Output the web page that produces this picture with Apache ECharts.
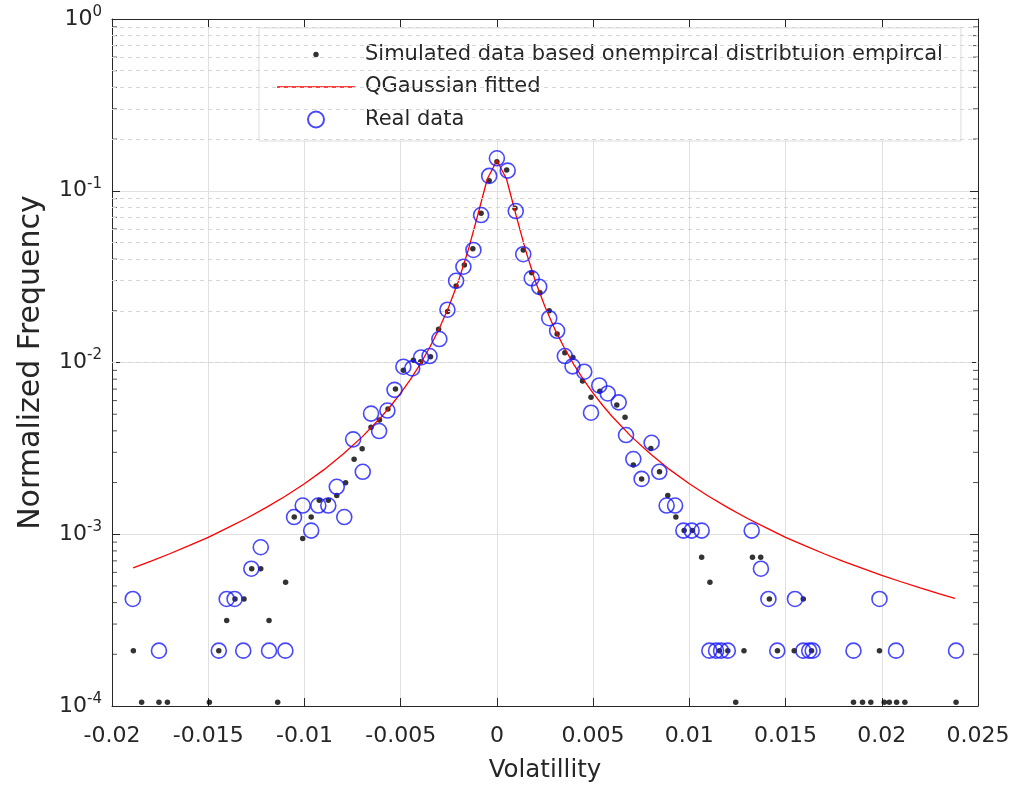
<!DOCTYPE html>
<html><head><meta charset="utf-8">
<script src="https://cdn.jsdelivr.net/npm/echarts@6/dist/echarts.min.js"></script>
<style>html,body{margin:0;padding:0;background:#fff}#c{width:1017px;height:792px}</style>
</head><body><div id="c"></div>
<script>
// Simulated data (black dots)
const simX = [-0.01889,-0.01846,-0.01756,-0.01712,-0.01494,-0.01445,-0.01404,-0.01361,-0.01314,-0.01274,-0.01227,-0.01184,-0.01139,-0.01098,-0.01053,-0.01009,-0.00965,-0.00923,-0.00876,-0.00832,-0.00786,-0.00742,-0.00700,-0.00654,-0.00610,-0.00566,-0.00527,-0.00486,-0.00434,-0.00396,-0.00345,-0.00303,-0.00256,-0.00212,-0.00169,-0.00125,-0.00082,-0.00040,0.00000,0.00051,0.00094,0.00137,0.00181,0.00224,0.00272,0.00313,0.00353,0.00395,0.00445,0.00489,0.00535,0.00623,0.00666,0.00709,0.00752,0.00800,0.00845,0.00888,0.00930,0.00973,0.01016,0.01064,0.01107,0.01156,0.01200,0.01241,0.01284,0.01328,0.01371,0.01416,0.01458,0.01545,0.01592,0.01635,0.01853,0.01900,0.01943,0.01988,0.02013,0.02039,0.02077,0.02120,0.02386];
const simY = [2.1e-4,1.05e-4,1.05e-4,1.05e-4,1.05e-4,2.1e-4,3.15e-4,4.2e-4,4.2e-4,6.3e-4,6.3e-4,3.15e-4,1.05e-4,5.25e-4,1.26e-3,9.45e-4,1.26e-3,1.575e-3,1.575e-3,1.68e-3,1.995e-3,2.73e-3,3.15e-3,4.2e-3,4.62e-3,5.36e-3,7.0e-3,9.0e-3,1.03e-2,1.01e-2,1.08e-2,1.56e-2,1.98e-2,2.79e-2,3.7e-2,4.6e-2,7.39e-2,0.1145,0.1476,0.132,0.079,0.0452,0.0333,0.0255,0.0200,0.01466,0.0114,0.01068,7.8e-3,6.28e-3,6.8e-3,5.66e-3,4.8e-3,2.53e-3,2.1e-3,3.16e-3,2.31e-3,1.68e-3,1.26e-3,1.05e-3,1.05e-3,7.35e-4,5.25e-4,2.1e-4,2.1e-4,1.05e-4,2.1e-4,7.35e-4,7.35e-4,4.2e-4,2.1e-4,2.1e-4,4.2e-4,2.1e-4,1.05e-4,1.05e-4,1.05e-4,2.1e-4,1.05e-4,1.05e-4,1.05e-4,1.05e-4,1.05e-4];

// Real data (blue circles)
const realX = [-0.01892,-0.01756,-0.01445,-0.01404,-0.01363,-0.01318,-0.01276,-0.01227,-0.01184,-0.01099,-0.01054,-0.01009,-0.00965,-0.00928,-0.00876,-0.00832,-0.00793,-0.00747,-0.00697,-0.00654,-0.00612,-0.00569,-0.00532,-0.00486,-0.00440,-0.00394,-0.00350,-0.00299,-0.00257,-0.00212,-0.00174,-0.00122,-0.00082,-0.00040,0.00000,0.00056,0.00098,0.00137,0.00181,0.00220,0.00272,0.00313,0.00353,0.00393,0.00454,0.00489,0.00532,0.00576,0.00633,0.00671,0.00709,0.00752,0.00804,0.00844,0.00882,0.00926,0.00969,0.01012,0.01064,0.01104,0.01139,0.01165,0.01200,0.01324,0.01372,0.01411,0.01457,0.01549,0.01592,0.01623,0.01641,0.01853,0.01988,0.02074,0.02386];
const realY = [4.2e-4,2.1e-4,2.1e-4,4.2e-4,4.2e-4,2.1e-4,6.3e-4,8.4e-4,2.1e-4,2.1e-4,1.26e-3,1.47e-3,1.05e-3,1.47e-3,1.47e-3,1.89e-3,1.26e-3,3.57e-3,2.31e-3,5.04e-3,3.99e-3,5.25e-3,6.93e-3,9.45e-3,9.24e-3,1.07e-2,1.09e-2,1.37e-2,2.03e-2,2.99e-2,3.61e-2,4.52e-2,7.22e-2,0.122,0.1545,0.131,0.0762,0.0427,0.0309,0.0276,0.0181,0.0153,0.0109,0.0095,8.84e-3,5.1e-3,7.35e-3,6.6e-3,5.86e-3,3.78e-3,2.74e-3,2.1e-3,3.41e-3,2.31e-3,1.47e-3,1.47e-3,1.05e-3,1.05e-3,1.05e-3,2.1e-4,2.1e-4,2.1e-4,2.1e-4,1.05e-3,6.3e-4,4.2e-4,2.1e-4,4.2e-4,2.1e-4,2.1e-4,2.1e-4,2.1e-4,4.2e-4,2.1e-4,2.1e-4];

// QGaussian fitted curve
const fitX = [-0.0189,-0.018,-0.017,-0.016,-0.015,-0.014,-0.013,-0.012,-0.011,-0.010,-0.009,-0.008,-0.007,-0.006,-0.0055,-0.005,-0.0045,-0.004,-0.0035,-0.003,-0.0025,-0.002,-0.0015,-0.001,-0.0005,0,0.0005,0.001,0.0015,0.002,0.0025,0.003,0.0035,0.004,0.0045,0.005,0.0055,0.006,0.007,0.008,0.009,0.010,0.011,0.012,0.013,0.014,0.015,0.016,0.017,0.018,0.019,0.020,0.021,0.022,0.023,0.0238];
const fitY = [6.38e-4,6.96e-4,7.70e-4,8.58e-4,9.6e-4,1.09e-3,1.239e-3,1.43e-3,1.665e-3,1.97e-3,2.37e-3,2.92e-3,3.69e-3,4.83e-3,5.62e-3,6.63e-3,7.95e-3,9.72e-3,1.218e-2,1.57e-2,2.11e-2,2.97e-2,4.47e-2,7.18e-2,0.117,0.15,0.117,7.18e-2,4.47e-2,2.97e-2,2.11e-2,1.57e-2,1.218e-2,9.72e-3,7.95e-3,6.63e-3,5.62e-3,4.83e-3,3.69e-3,2.92e-3,2.37e-3,1.97e-3,1.665e-3,1.43e-3,1.239e-3,1.09e-3,9.6e-4,8.58e-4,7.70e-4,6.96e-4,6.32e-4,5.77e-4,5.29e-4,4.87e-4,4.50e-4,4.23e-4];

const xTickLabels = ['-0.02','-0.015','-0.01','-0.005','0','0.005','0.01','0.015','0.02','0.025'];
const yTickExp = ['-4','-3','-2','-1','0'];
const seriesNames = ['Simulated data based onempircal distribtuion empircal','QGaussian fitted','Real data'];

const X_MIN = -0.02, X_MAX = 0.025;
const minorY = [];
[-4,-3,-2,-1].forEach(d => { for (let m = 2; m <= 9; m++) minorY.push(m * Math.pow(10, d)); });

const FONT = '"DejaVu Sans", "Liberation Sans", Arial, sans-serif';
const AX = '#262626';
const chart = echarts.init(document.getElementById('c'));
chart.setOption({
  animation: false,
  textStyle: { fontFamily: FONT },
  grid: { left: 112, top: 19, width: 866, height: 687 },
  legend: {
    orient: 'vertical', left: 259, top: 28,
    itemWidth: 78, itemHeight: 16, itemGap: 11.5,
    padding: [16, 18, 11, 18],
    backgroundColor: '#ffffff', borderColor: '#dcdcdc', borderWidth: 1,
    textStyle: { fontSize: 21, color: AX, padding: [0, 0, 0, 5], fontFamily: FONT },
    data: [
      { name: seriesNames[0], icon: 'path://M0,0L0.01,0L0.01,0.01ZM10,10L10.01,10L10.01,10.01ZM3.3,5A1.7,1.7 0 1,0 6.7,5A1.7,1.7 0 1,0 3.3,5Z' },
      { name: seriesNames[1], icon: 'path://M0,0L60,0L60,1L0,1Z', itemStyle: { color: '#ff0000' } },
      { name: seriesNames[2], icon: 'circle' }
    ]
  },
  xAxis: [{
    type: 'value', min: X_MIN, max: X_MAX, interval: 0.005,
    axisLine: { onZero: false, lineStyle: { color: AX, width: 1 } },
    axisTick: { inside: true, length: 8, lineStyle: { color: AX } },
    axisLabel: { color: AX, fontSize: 22, margin: 19, fontFamily: FONT,
      formatter: v => xTickLabels[Math.round((v - X_MIN) / 0.005)] },
    splitLine: { show: true, lineStyle: { color: '#e0e0e0', width: 1 } },
    name: 'Volatillity', nameLocation: 'middle', nameGap: 52,
    nameTextStyle: { fontSize: 24.5, color: AX, fontFamily: FONT }
  }, {
    type: 'value', position: 'top', min: X_MIN, max: X_MAX, interval: 0.005,
    axisLine: { onZero: false, lineStyle: { color: AX, width: 1 } },
    axisTick: { inside: true, length: 8, lineStyle: { color: AX } },
    axisLabel: { show: false }, splitLine: { show: false }
  }],
  yAxis: [{
    type: 'log', logBase: 10, min: 1e-4, max: 1,
    axisLine: { show: true, onZero: false, lineStyle: { color: AX, width: 1 } },
    axisTick: { show: true, inside: true, length: 8, lineStyle: { color: AX } },
    axisLabel: { margin: 10,
      formatter: v => '{b|10}{s|' + yTickExp[Math.round(Math.log10(v)) + 4] + '}',
      rich: { b: { fontSize: 22, color: AX, fontFamily: FONT },
              s: { fontSize: 15, color: AX, fontFamily: FONT, padding: [0, 0, 14, 0] } } },
    splitLine: { show: true, lineStyle: { color: '#e0e0e0', width: 1 } },
    name: 'Normalized Frequency', nameLocation: 'middle', nameGap: 66,
    nameTextStyle: { fontSize: 30, color: AX, fontFamily: FONT }
  }, {
    type: 'log', logBase: 10, min: 1e-4, max: 1, position: 'right',
    axisLine: { show: true, onZero: false, lineStyle: { color: AX, width: 1 } },
    axisTick: { show: true, inside: true, length: 8, lineStyle: { color: AX } },
    axisLabel: { show: false }, splitLine: { show: false }
  }],
  series: [
    { type: 'scatter', name: 'minor', silent: true, data: [],
      markLine: { silent: true, symbol: ['none', 'none'], label: { show: false },
        lineStyle: { type: [4, 4], color: '#d6d6d6', width: 1 },
        data: minorY.map(v => ({ yAxis: v })) } },
    { type: 'scatter', name: 'minorTickL', silent: true, symbol: 'rect',
      symbolSize: [5, 1], symbolOffset: [2.5, 0], itemStyle: { color: AX },
      data: minorY.map(v => [X_MIN, v]) },
    { type: 'scatter', name: 'minorTickR', silent: true, symbol: 'rect',
      symbolSize: [5, 1], symbolOffset: [-2.5, 0], itemStyle: { color: AX },
      data: minorY.map(v => [X_MAX, v]) },
    { type: 'scatter', name: seriesNames[0], symbol: 'circle', symbolSize: 5.5,
      itemStyle: { color: '#000000' }, z: 3,
      data: simX.map((x, i) => [x, simY[i]]) },
    { type: 'line', name: seriesNames[1], symbol: 'none', showSymbol: false, smooth: false,
      lineStyle: { color: '#ff0000', width: 1.3 }, itemStyle: { color: '#ff0000' }, z: 4,
      data: fitX.map((x, i) => [x, fitY[i]]) },
    { type: 'scatter', name: seriesNames[2], symbol: 'circle', symbolSize: 15,
      itemStyle: { color: 'transparent', borderColor: '#1a1aff', borderWidth: 1.6 }, z: 5,
      data: realX.map((x, i) => [x, realY[i]]) }
  ]
});
</script></body></html>
